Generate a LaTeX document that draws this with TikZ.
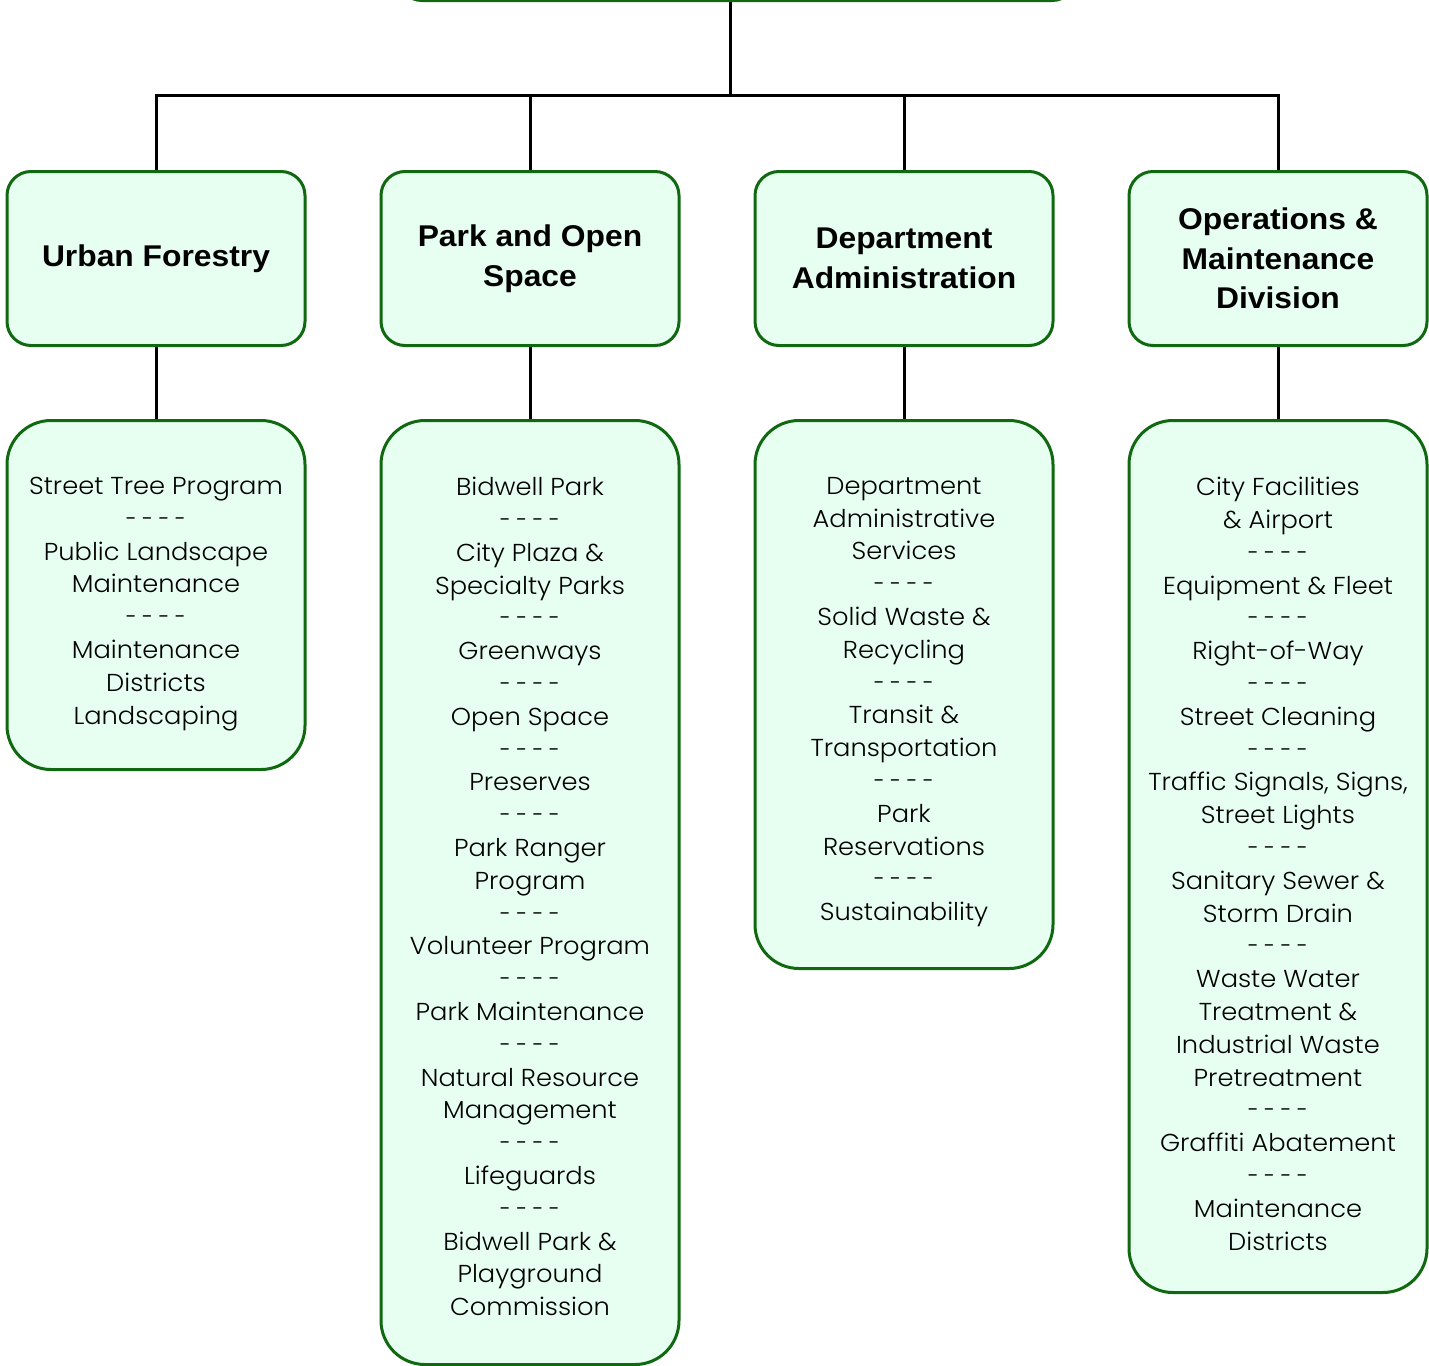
\documentclass[tikz,border=0pt]{standalone}
\usepackage{fontspec}
\usepackage{graphicx}
\setmainfont{Poppins}[UprightFont=* Light, FakeStretch=1.05]
\newfontfamily\headfamily{Liberation Sans}[FakeStretch=1.06]
\newcommand\sepdashes{\scalebox{0.8}[1]{- - - -}}
\definecolor{boxgreen}{RGB}{16,104,16}
\definecolor{boxfill}{RGB}{230,255,240}
\tikzset{
  orgbox/.style={draw=boxgreen, fill=boxfill, line width=3pt, align=center, inner sep=0pt, anchor=north},
  headbox/.style={orgbox, rounded corners=24pt, minimum width=298pt, minimum height=174pt,
    font=\headfamily\bfseries\fontsize{30}{39.5}\selectfont},
  listbox/.style={orgbox, rounded corners=44pt, minimum width=298pt},
  listtext/.style={anchor=north, align=center, inner sep=0pt, yshift=-58pt,
    font=\fontsize{24.5}{32.8}\selectfont},
  link/.style={line width=3pt, black}
}
\begin{document}
\begin{tikzpicture}[x=1pt,y=-1pt]
\useasboundingbox (0,0) rectangle (1429,1365);
% root of the chart, mostly above the page
\node[orgbox, anchor=south, rounded corners=24pt, minimum width=678pt, minimum height=100pt] (root) at (737,2) {};
% divisions
\node[headbox] (h1) at (156,170) {Urban Forestry};
\node[headbox] (h2) at (530,170) {Park and Open\\Space};
\node[headbox] (h3) at (904,170) {Department\\Administration};
\node[headbox] (h4) at (1278,170) {Operations \&\\Maintenance\\Division};
% program boxes of each division
\node[listbox, minimum height=349pt] (l1) at (156,419) {};
\node[listbox, minimum height=944pt] (l2) at (530,419) {};
\node[listbox, minimum height=548pt] (l3) at (904,419) {};
\node[listbox, minimum height=872pt] (l4) at (1278,419) {};
% program lists, set from the top of each box
\node[listtext] (t1) at (l1.north) {Street Tree Program\\\sepdashes\\Public Landscape\\Maintenance\\\sepdashes\\Maintenance\\Districts\\Landscaping};
\node[listtext] (t2) at (l2.north) {Bidwell Park\\\sepdashes\\City Plaza \&\\Specialty Parks\\\sepdashes\\Greenways\\\sepdashes\\Open Space\\\sepdashes\\Preserves\\\sepdashes\\Park Ranger\\Program\\\sepdashes\\Volunteer Program\\\sepdashes\\Park Maintenance\\\sepdashes\\Natural Resource\\Management\\\sepdashes\\Lifeguards\\\sepdashes\\Bidwell Park \&\\Playground\\Commission};
\node[listtext] (t3) at (l3.north) {Department\\Administrative\\Services\\\sepdashes\\Solid Waste \&\\Recycling\\\sepdashes\\Transit \&\\Transportation\\\sepdashes\\Park\\Reservations\\\sepdashes\\Sustainability};
\node[listtext] (t4) at (l4.north) {City Facilities\\\& Airport\\\sepdashes\\Equipment \& Fleet\\\sepdashes\\Right-of-Way\\\sepdashes\\Street Cleaning\\\sepdashes\\Traffic Signals, Signs,\\Street Lights\\\sepdashes\\Sanitary Sewer \&\\Storm Drain\\\sepdashes\\Waste Water\\Treatment \&\\Industrial Waste\\Pretreatment\\\sepdashes\\Graffiti Abatement\\\sepdashes\\Maintenance\\Districts};
% connectors
\coordinate (bus) at (730,95);
\draw[link] (root.south -| bus) -- (bus);
\draw[link] (h1.north) |- (bus) -| (h4.north);
\draw[link] (h2.north) -- (h2.north |- bus);
\draw[link] (h3.north) -- (h3.north |- bus);
\foreach \i in {1,2,3,4} \draw[link] (h\i.south) -- (l\i.north);
\end{tikzpicture}
\end{document}
